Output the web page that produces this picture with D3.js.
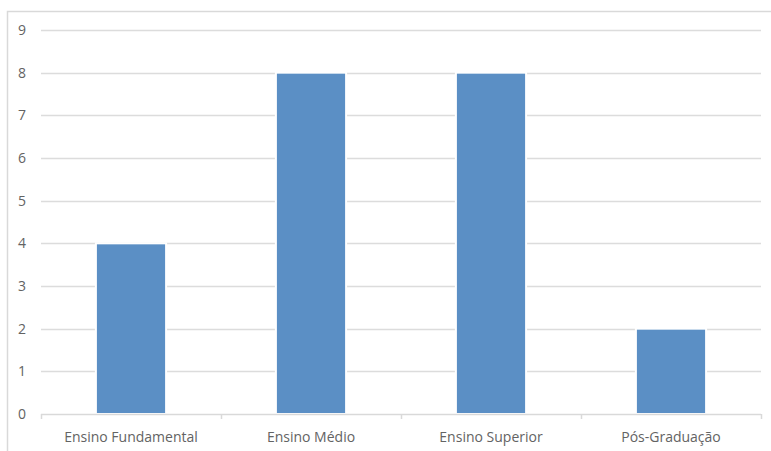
<!DOCTYPE html>
<html><head><meta charset="utf-8">
<script src="https://cdn.jsdelivr.net/npm/d3@7"></script>
<style>body{margin:0;background:#fff}svg{display:block}</style>
</head><body>
<svg id="c" width="771" height="451"></svg>
<script>
const categories = ["Ensino Fundamental", "Ensino Médio", "Ensino Superior", "Pós-Graduação"];
const values = [4, 8, 8, 2];
const yTicks = [0, 1, 2, 3, 4, 5, 6, 7, 8, 9];

const svg = d3.select("#c");
const W = 771, H = 451;
const m = {left: 41, right: 10, top: 30, bottom: 37};
const font = "'Open Sans', 'Noto Sans', sans-serif";

// chart area border
svg.append("rect").attr("x", 7.5).attr("y", 11.5).attr("width", W + 10).attr("height", H + 10)
  .attr("fill", "#fff").attr("stroke", "#d9d9d9").attr("stroke-width", 1.5);

const x = d3.scaleBand().domain(categories).range([m.left, W - m.right]).paddingInner(0.61).paddingOuter(0.305);
const y = d3.scaleLinear().domain([0, 9]).range([H - m.bottom, m.top]);

// gridlines
svg.append("g").selectAll("line").data(yTicks.filter(d => d > 0)).join("line")
  .attr("x1", m.left).attr("x2", W - m.right)
  .attr("y1", d => Math.round(y(d)) + 0.5).attr("y2", d => Math.round(y(d)) + 0.5)
  .attr("stroke", "#dcdcdc").attr("stroke-width", 1.5);

// y labels
svg.append("g").selectAll("text").data(yTicks).join("text")
  .attr("x", 26).attr("y", d => y(d)).attr("dy", "0.36em")
  .attr("text-anchor", "end").attr("font-family", font).attr("font-size", 14).attr("fill", "#636363")
  .text(d => d);

// bars
svg.append("g").selectAll("rect").data(values).join("rect")
  .attr("x", (d, i) => x(categories[i])).attr("width", x.bandwidth())
  .attr("y", d => y(d)).attr("height", d => y(0) - y(d))
  .attr("fill", "#5b8fc5").attr("stroke", "#fff").attr("stroke-width", 2);

// x axis
const xb = d3.scaleLinear().domain([0, categories.length]).range([m.left, W - m.right]);
const ax = svg.append("g");
ax.append("line").attr("x1", m.left).attr("x2", W - m.right)
  .attr("y1", Math.round(y(0)) + 0.5).attr("y2", Math.round(y(0)) + 0.5)
  .attr("stroke", "#d9d9d9").attr("stroke-width", 1.5);
ax.selectAll("line.t").data(d3.range(categories.length + 1)).join("line").attr("class", "t")
  .attr("x1", d => Math.round(xb(d)) + 0.5).attr("x2", d => Math.round(xb(d)) + 0.5)
  .attr("y1", Math.round(y(0))).attr("y2", Math.round(y(0)) + 5)
  .attr("stroke", "#d9d9d9").attr("stroke-width", 1.5);
ax.selectAll("text").data(categories).join("text")
  .attr("x", d => x(d) + x.bandwidth() / 2).attr("y", y(0) + 28)
  .attr("text-anchor", "middle").attr("font-family", font).attr("font-size", 14).attr("fill", "#636363")
  .text(d => d);
</script>
</body></html>
